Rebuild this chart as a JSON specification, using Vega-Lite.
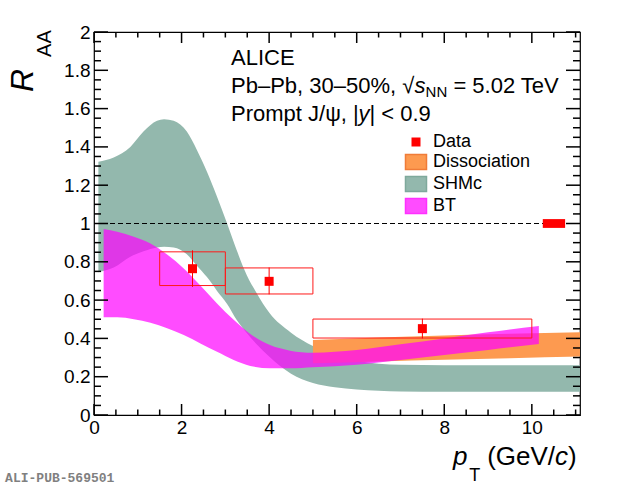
{
  "$schema": "https://vega.github.io/schema/vega-lite/v6.json",
  "width": 486,
  "height": 383,
  "autosize": {"type": "none"},
  "padding": {"left": 94, "top": 32, "right": 40, "bottom": 71},
  "background": "white",
  "config": {
    "view": {"stroke": "black", "strokeWidth": 1.2},
    "axis": {
      "domain": false, "grid": false, "ticks": false, "tickSize": 0,
      "labelColor": "black", "labelFont": "Liberation Sans", "labelFontSize": 19,
      "labelOverlap": false, "labelFlush": false
    },
    "text": {"font": "Liberation Sans", "color": "black", "align": "left", "baseline": "alphabetic"}
  },
  "datasets": {
    "shmc": [
      {"x": 0.1, "lo": 0.746, "hi": 1.323},
      {"x": 0.45, "lo": 0.77, "hi": 1.345},
      {"x": 0.83, "lo": 0.827, "hi": 1.40},
      {"x": 1.13, "lo": 0.855, "hi": 1.48},
      {"x": 1.44, "lo": 0.875, "hi": 1.537},
      {"x": 1.6, "lo": 0.879, "hi": 1.545},
      {"x": 1.82, "lo": 0.875, "hi": 1.537},
      {"x": 2.12, "lo": 0.84, "hi": 1.48},
      {"x": 2.35, "lo": 0.78, "hi": 1.384},
      {"x": 2.58, "lo": 0.72, "hi": 1.27},
      {"x": 2.81, "lo": 0.648, "hi": 1.14},
      {"x": 3.04, "lo": 0.58, "hi": 1.0},
      {"x": 3.26, "lo": 0.496, "hi": 0.86},
      {"x": 3.49, "lo": 0.428, "hi": 0.73},
      {"x": 3.72, "lo": 0.368, "hi": 0.635},
      {"x": 4.0, "lo": 0.305, "hi": 0.535},
      {"x": 4.5, "lo": 0.215, "hi": 0.43},
      {"x": 5.0, "lo": 0.167, "hi": 0.36},
      {"x": 5.5, "lo": 0.145, "hi": 0.31},
      {"x": 6.0, "lo": 0.133, "hi": 0.283},
      {"x": 6.5, "lo": 0.127, "hi": 0.268},
      {"x": 7.0, "lo": 0.123, "hi": 0.262},
      {"x": 8.0, "lo": 0.122, "hi": 0.26},
      {"x": 9.0, "lo": 0.122, "hi": 0.26},
      {"x": 10.0, "lo": 0.122, "hi": 0.26},
      {"x": 11.1, "lo": 0.122, "hi": 0.26}
    ],
    "diss": [
      {"x": 5.0, "lo": 0.27, "hi": 0.392},
      {"x": 6.5, "lo": 0.28, "hi": 0.405},
      {"x": 8.0, "lo": 0.289, "hi": 0.415},
      {"x": 9.5, "lo": 0.297, "hi": 0.424},
      {"x": 11.1, "lo": 0.305, "hi": 0.432}
    ],
    "bt": [
      {"x": 0.22, "lo": 0.51, "hi": 0.971},
      {"x": 0.53, "lo": 0.51, "hi": 0.957},
      {"x": 0.91, "lo": 0.50, "hi": 0.931},
      {"x": 1.29, "lo": 0.482, "hi": 0.896},
      {"x": 1.67, "lo": 0.453, "hi": 0.838},
      {"x": 2.05, "lo": 0.418, "hi": 0.765},
      {"x": 2.43, "lo": 0.374, "hi": 0.676},
      {"x": 2.81, "lo": 0.33, "hi": 0.582},
      {"x": 3.19, "lo": 0.287, "hi": 0.497},
      {"x": 3.57, "lo": 0.256, "hi": 0.423},
      {"x": 4.02, "lo": 0.244, "hi": 0.365},
      {"x": 4.48, "lo": 0.244, "hi": 0.336},
      {"x": 5.0, "lo": 0.25, "hi": 0.325},
      {"x": 5.5, "lo": 0.255, "hi": 0.33},
      {"x": 6.0, "lo": 0.262, "hi": 0.34},
      {"x": 7.0, "lo": 0.287, "hi": 0.37},
      {"x": 8.0, "lo": 0.313, "hi": 0.40},
      {"x": 9.0, "lo": 0.34, "hi": 0.432},
      {"x": 10.16, "lo": 0.371, "hi": 0.465}
    ],
    "points": [
      {"pt": 2.25, "xlo": 1.5, "xhi": 3.0, "raa": 0.764, "slo": 0.676, "shi": 0.852, "elo": 0.669, "ehi": 0.86},
      {"pt": 4.0, "xlo": 3.0, "xhi": 5.0, "raa": 0.698, "slo": 0.632, "shi": 0.768, "elo": 0.63, "ehi": 0.77},
      {"pt": 7.5, "xlo": 5.0, "xhi": 10.0, "raa": 0.451, "slo": 0.402, "shi": 0.501, "elo": 0.40, "ehi": 0.503}
    ]
  },
  "layer": [
    {
      "data": {"name": "shmc"},
      "mark": {"type": "area", "interpolate": "monotone"},
      "encoding": {
        "x": {"field": "x", "type": "quantitative", "scale": {"domain": [0, 11.1], "nice": false, "zero": false},
          "axis": {"orient": "bottom", "values": [0, 2, 4, 6, 8, 10], "labelPadding": 3.5, "title": null}},
        "y": {"field": "hi", "type": "quantitative", "scale": {"domain": [0, 2], "nice": false},
          "axis": {"orient": "left", "values": [0, 0.2, 0.4, 0.6, 0.8, 1, 1.2, 1.4, 1.6, 1.8, 2], "labelPadding": 4, "format": "~g", "title": null}},
        "y2": {"field": "lo"},
        "color": {
          "datum": "SHMc",
          "type": "nominal",
          "scale": {"domain": ["Data", "Dissociation", "SHMc", "BT"], "range": ["#ff0000", "#fd9a50", "#93b8ad", "#ff00ff"]},
          "legend": {
            "title": null, "orient": "none", "legendX": 313, "legendY": 101, "padding": 0,
            "symbolType": "square", "symbolSize": 225,
            "labelFont": "Liberation Sans", "labelFontSize": 18, "labelColor": "black",
            "labelOffset": 8, "rowPadding": 0,
            "encode": {
              "symbols": {
                "update": {
                  "shape": {"signal": "datum.value === 'Data' ? 'square' : 'M-1.4,-1H1.4V1H-1.4Z'"},
                  "size": {"signal": "datum.value === 'Data' ? 81 : 225"},
                  "fill": {"signal": "scale('color', datum.value)"},
                  "fillOpacity": {"signal": "datum.value === 'BT' ? 0.7 : 1"},
                  "opacity": {"value": 1},
                  "stroke": {"signal": "datum.value === 'Dissociation' ? '#f07c38' : datum.value === 'SHMc' ? '#7fa99c' : datum.value === 'BT' ? '#ff30ff' : 'transparent'"},
                  "strokeWidth": {"value": 1.5}
                }
              }
            }
          }
        }
      }
    },
    {
      "data": {"name": "diss"},
      "mark": {"type": "area", "interpolate": "monotone"},
      "encoding": {
        "x": {"field": "x", "type": "quantitative", "scale": {"domain": [0, 11.1], "nice": false, "zero": false}, "axis": null},
        "y": {"field": "hi", "type": "quantitative", "scale": {"domain": [0, 2], "nice": false}, "axis": null},
        "y2": {"field": "lo"},
        "color": {"datum": "Dissociation", "type": "nominal"}
      }
    },
    {
      "data": {"name": "bt"},
      "mark": {"type": "area", "interpolate": "monotone", "opacity": 0.7},
      "encoding": {
        "x": {"field": "x", "type": "quantitative", "scale": {"domain": [0, 11.1], "nice": false, "zero": false}, "axis": null},
        "y": {"field": "hi", "type": "quantitative", "scale": {"domain": [0, 2], "nice": false}, "axis": null},
        "y2": {"field": "lo"},
        "color": {"datum": "BT", "type": "nominal"}
      }
    },
    {
      "data": {"values": [{"x0": 0, "x1": 11.1, "y": 1}]},
      "mark": {"type": "rule", "color": "black", "strokeWidth": 1, "strokeDash": [5, 3]},
      "encoding": {
        "x": {"field": "x0", "type": "quantitative", "scale": {"domain": [0, 11.1], "nice": false, "zero": false}, "axis": null},
        "x2": {"field": "x1"},
        "y": {"field": "y", "type": "quantitative", "scale": {"domain": [0, 2], "nice": false}, "axis": null}
      }
    },
    {
      "data": {"name": "points"},
      "mark": {"type": "rect", "fillOpacity": 0, "stroke": "#ff1a1a", "strokeWidth": 1},
      "encoding": {
        "x": {"field": "xlo", "type": "quantitative", "scale": {"domain": [0, 11.1], "nice": false, "zero": false}, "axis": null},
        "x2": {"field": "xhi"},
        "y": {"field": "slo", "type": "quantitative", "scale": {"domain": [0, 2], "nice": false}, "axis": null},
        "y2": {"field": "shi"}
      }
    },
    {
      "data": {"name": "points"},
      "mark": {"type": "rule", "color": "#ff0000", "strokeWidth": 1},
      "encoding": {
        "x": {"field": "pt", "type": "quantitative", "scale": {"domain": [0, 11.1], "nice": false, "zero": false}, "axis": null},
        "y": {"field": "elo", "type": "quantitative", "scale": {"domain": [0, 2], "nice": false}, "axis": null},
        "y2": {"field": "ehi"}
      }
    },
    {
      "data": {"name": "points"},
      "mark": {"type": "point", "shape": "square", "filled": true, "size": 81, "opacity": 1},
      "encoding": {
        "x": {"field": "pt", "type": "quantitative", "scale": {"domain": [0, 11.1], "nice": false, "zero": false}, "axis": null},
        "y": {"field": "raa", "type": "quantitative", "scale": {"domain": [0, 2], "nice": false}, "axis": null},
        "color": {"datum": "Data", "type": "nominal"}
      }
    },
    {
      "data": {"values": [{"xlo": 10.25, "xhi": 10.76, "lo": 0.977, "hi": 1.023}]},
      "mark": {"type": "rect", "color": "#ff0000"},
      "encoding": {
        "x": {"field": "xlo", "type": "quantitative", "scale": {"domain": [0, 11.1], "nice": false, "zero": false}, "axis": null},
        "x2": {"field": "xhi"},
        "y": {"field": "lo", "type": "quantitative", "scale": {"domain": [0, 2], "nice": false}, "axis": null},
        "y2": {"field": "hi"}
      }
    },
    {
      "data": {"values": [
        {"v": 0, "a": 0, "b": 0.0574}, {"v": 2, "a": 0, "b": 0.0574}, {"v": 4, "a": 0, "b": 0.0574},
        {"v": 6, "a": 0, "b": 0.0574}, {"v": 8, "a": 0, "b": 0.0574}, {"v": 10, "a": 0, "b": 0.0574},
        {"v": 0, "a": 1.9426, "b": 2}, {"v": 2, "a": 1.9426, "b": 2}, {"v": 4, "a": 1.9426, "b": 2},
        {"v": 6, "a": 1.9426, "b": 2}, {"v": 8, "a": 1.9426, "b": 2}, {"v": 10, "a": 1.9426, "b": 2},
        {"v": 0.5, "a": 0, "b": 0.0287}, {"v": 1, "a": 0, "b": 0.0287}, {"v": 1.5, "a": 0, "b": 0.0287},
        {"v": 2.5, "a": 0, "b": 0.0287}, {"v": 3, "a": 0, "b": 0.0287}, {"v": 3.5, "a": 0, "b": 0.0287},
        {"v": 4.5, "a": 0, "b": 0.0287}, {"v": 5, "a": 0, "b": 0.0287}, {"v": 5.5, "a": 0, "b": 0.0287},
        {"v": 6.5, "a": 0, "b": 0.0287}, {"v": 7, "a": 0, "b": 0.0287}, {"v": 7.5, "a": 0, "b": 0.0287},
        {"v": 8.5, "a": 0, "b": 0.0287}, {"v": 9, "a": 0, "b": 0.0287}, {"v": 9.5, "a": 0, "b": 0.0287},
        {"v": 10.5, "a": 0, "b": 0.0287}, {"v": 11, "a": 0, "b": 0.0287},
        {"v": 0.5, "a": 1.9713, "b": 2}, {"v": 1, "a": 1.9713, "b": 2}, {"v": 1.5, "a": 1.9713, "b": 2},
        {"v": 2.5, "a": 1.9713, "b": 2}, {"v": 3, "a": 1.9713, "b": 2}, {"v": 3.5, "a": 1.9713, "b": 2},
        {"v": 4.5, "a": 1.9713, "b": 2}, {"v": 5, "a": 1.9713, "b": 2}, {"v": 5.5, "a": 1.9713, "b": 2},
        {"v": 6.5, "a": 1.9713, "b": 2}, {"v": 7, "a": 1.9713, "b": 2}, {"v": 7.5, "a": 1.9713, "b": 2},
        {"v": 8.5, "a": 1.9713, "b": 2}, {"v": 9, "a": 1.9713, "b": 2}, {"v": 9.5, "a": 1.9713, "b": 2},
        {"v": 10.5, "a": 1.9713, "b": 2}, {"v": 11, "a": 1.9713, "b": 2}
      ]},
      "mark": {"type": "rule", "color": "#000000", "strokeWidth": 1.5, "opacity": 1},
      "encoding": {
        "x": {"field": "v", "type": "quantitative", "scale": {"domain": [0, 11.1], "nice": false, "zero": false}, "axis": null},
        "y": {"field": "a", "type": "quantitative", "scale": {"domain": [0, 2], "nice": false}, "axis": null},
        "y2": {"field": "b"}
      }
    },
    {
      "data": {"values": [
        {"v": 0, "a": 0, "b": 0.32}, {"v": 0.2, "a": 0, "b": 0.32}, {"v": 0.4, "a": 0, "b": 0.32}, {"v": 0.6, "a": 0, "b": 0.32},
        {"v": 0.8, "a": 0, "b": 0.32}, {"v": 1, "a": 0, "b": 0.32}, {"v": 1.2, "a": 0, "b": 0.32}, {"v": 1.4, "a": 0, "b": 0.32},
        {"v": 1.6, "a": 0, "b": 0.32}, {"v": 1.8, "a": 0, "b": 0.32}, {"v": 2, "a": 0, "b": 0.32},
        {"v": 0, "a": 10.78, "b": 11.1}, {"v": 0.2, "a": 10.78, "b": 11.1}, {"v": 0.4, "a": 10.78, "b": 11.1}, {"v": 0.6, "a": 10.78, "b": 11.1},
        {"v": 0.8, "a": 10.78, "b": 11.1}, {"v": 1, "a": 10.78, "b": 11.1}, {"v": 1.2, "a": 10.78, "b": 11.1}, {"v": 1.4, "a": 10.78, "b": 11.1},
        {"v": 1.6, "a": 10.78, "b": 11.1}, {"v": 1.8, "a": 10.78, "b": 11.1}, {"v": 2, "a": 10.78, "b": 11.1},
        {"v": 0.05, "a": 0, "b": 0.16}, {"v": 0.1, "a": 0, "b": 0.16}, {"v": 0.15, "a": 0, "b": 0.16}, {"v": 0.25, "a": 0, "b": 0.16},
        {"v": 0.3, "a": 0, "b": 0.16}, {"v": 0.35, "a": 0, "b": 0.16}, {"v": 0.45, "a": 0, "b": 0.16}, {"v": 0.5, "a": 0, "b": 0.16},
        {"v": 0.55, "a": 0, "b": 0.16}, {"v": 0.65, "a": 0, "b": 0.16}, {"v": 0.7, "a": 0, "b": 0.16}, {"v": 0.75, "a": 0, "b": 0.16},
        {"v": 0.85, "a": 0, "b": 0.16}, {"v": 0.9, "a": 0, "b": 0.16}, {"v": 0.95, "a": 0, "b": 0.16}, {"v": 1.05, "a": 0, "b": 0.16},
        {"v": 1.1, "a": 0, "b": 0.16}, {"v": 1.15, "a": 0, "b": 0.16}, {"v": 1.25, "a": 0, "b": 0.16}, {"v": 1.3, "a": 0, "b": 0.16},
        {"v": 1.35, "a": 0, "b": 0.16}, {"v": 1.45, "a": 0, "b": 0.16}, {"v": 1.5, "a": 0, "b": 0.16}, {"v": 1.55, "a": 0, "b": 0.16},
        {"v": 1.65, "a": 0, "b": 0.16}, {"v": 1.7, "a": 0, "b": 0.16}, {"v": 1.75, "a": 0, "b": 0.16}, {"v": 1.85, "a": 0, "b": 0.16},
        {"v": 1.9, "a": 0, "b": 0.16}, {"v": 1.95, "a": 0, "b": 0.16},
        {"v": 0.05, "a": 10.94, "b": 11.1}, {"v": 0.1, "a": 10.94, "b": 11.1}, {"v": 0.15, "a": 10.94, "b": 11.1}, {"v": 0.25, "a": 10.94, "b": 11.1},
        {"v": 0.3, "a": 10.94, "b": 11.1}, {"v": 0.35, "a": 10.94, "b": 11.1}, {"v": 0.45, "a": 10.94, "b": 11.1}, {"v": 0.5, "a": 10.94, "b": 11.1},
        {"v": 0.55, "a": 10.94, "b": 11.1}, {"v": 0.65, "a": 10.94, "b": 11.1}, {"v": 0.7, "a": 10.94, "b": 11.1}, {"v": 0.75, "a": 10.94, "b": 11.1},
        {"v": 0.85, "a": 10.94, "b": 11.1}, {"v": 0.9, "a": 10.94, "b": 11.1}, {"v": 0.95, "a": 10.94, "b": 11.1}, {"v": 1.05, "a": 10.94, "b": 11.1},
        {"v": 1.1, "a": 10.94, "b": 11.1}, {"v": 1.15, "a": 10.94, "b": 11.1}, {"v": 1.25, "a": 10.94, "b": 11.1}, {"v": 1.3, "a": 10.94, "b": 11.1},
        {"v": 1.35, "a": 10.94, "b": 11.1}, {"v": 1.45, "a": 10.94, "b": 11.1}, {"v": 1.5, "a": 10.94, "b": 11.1}, {"v": 1.55, "a": 10.94, "b": 11.1},
        {"v": 1.65, "a": 10.94, "b": 11.1}, {"v": 1.7, "a": 10.94, "b": 11.1}, {"v": 1.75, "a": 10.94, "b": 11.1}, {"v": 1.85, "a": 10.94, "b": 11.1},
        {"v": 1.9, "a": 10.94, "b": 11.1}, {"v": 1.95, "a": 10.94, "b": 11.1}
      ]},
      "mark": {"type": "rule", "color": "#000000", "strokeWidth": 1.5, "opacity": 1},
      "encoding": {
        "y": {"field": "v", "type": "quantitative", "scale": {"domain": [0, 2], "nice": false}, "axis": null},
        "x": {"field": "a", "type": "quantitative", "scale": {"domain": [0, 11.1], "nice": false, "zero": false}, "axis": null},
        "x2": {"field": "b"}
      }
    },
    {
      "data": {"values": [
        {"t": "ALICE", "x": 3.13, "y": 1.828},
        {"t": "Pb–Pb, 30–50%, √", "x": 3.13, "y": 1.681},
        {"t": "= 5.02 TeV", "x": 8.208, "y": 1.681},
        {"t": "Prompt J/ψ, |", "x": 3.13, "y": 1.535},
        {"t": "| < 0.9", "x": 6.292, "y": 1.535}
      ]},
      "mark": {"type": "text", "fontSize": 22},
      "encoding": {
        "x": {"field": "x", "type": "quantitative", "scale": {"domain": [0, 11.1], "nice": false, "zero": false}, "axis": null},
        "y": {"field": "y", "type": "quantitative", "scale": {"domain": [0, 2], "nice": false}, "axis": null},
        "text": {"field": "t"}
      }
    },
    {
      "data": {"values": [
        {"t": "s", "x": 7.322, "y": 1.681},
        {"t": "y", "x": 6.041, "y": 1.535}
      ]},
      "mark": {"type": "text", "fontSize": 22, "fontStyle": "italic"},
      "encoding": {
        "x": {"field": "x", "type": "quantitative", "scale": {"domain": [0, 11.1], "nice": false, "zero": false}, "axis": null},
        "y": {"field": "y", "type": "quantitative", "scale": {"domain": [0, 2], "nice": false}, "axis": null},
        "text": {"field": "t"}
      }
    },
    {
      "data": {"values": [
        {"t": "NN", "x": 7.573, "y": 1.66}
      ]},
      "mark": {"type": "text", "fontSize": 15},
      "encoding": {
        "x": {"field": "x", "type": "quantitative", "scale": {"domain": [0, 11.1], "nice": false, "zero": false}, "axis": null},
        "y": {"field": "y", "type": "quantitative", "scale": {"domain": [0, 2], "nice": false}, "axis": null},
        "text": {"field": "t"}
      }
    },
    {
      "data": {"values": [
        {"t": "p", "x": 8.2, "y": -0.261},
        {"t": "c", "x": 10.53, "y": -0.261}
      ]},
      "mark": {"type": "text", "fontSize": 26, "fontStyle": "italic"},
      "encoding": {
        "x": {"field": "x", "type": "quantitative", "scale": {"domain": [0, 11.1], "nice": false, "zero": false}, "axis": null},
        "y": {"field": "y", "type": "quantitative", "scale": {"domain": [0, 2], "nice": false}, "axis": null},
        "text": {"field": "t"}
      }
    },
    {
      "data": {"values": [
        {"t": "(GeV/", "x": 8.98, "y": -0.261},
        {"t": ")", "x": 10.826, "y": -0.261}
      ]},
      "mark": {"type": "text", "fontSize": 26},
      "encoding": {
        "x": {"field": "x", "type": "quantitative", "scale": {"domain": [0, 11.1], "nice": false, "zero": false}, "axis": null},
        "y": {"field": "y", "type": "quantitative", "scale": {"domain": [0, 2], "nice": false}, "axis": null},
        "text": {"field": "t"}
      }
    },
    {
      "data": {"values": [
        {"t": "T", "x": 8.57, "y": -0.345}
      ]},
      "mark": {"type": "text", "fontSize": 18},
      "encoding": {
        "x": {"field": "x", "type": "quantitative", "scale": {"domain": [0, 11.1], "nice": false, "zero": false}, "axis": null},
        "y": {"field": "y", "type": "quantitative", "scale": {"domain": [0, 2], "nice": false}, "axis": null},
        "text": {"field": "t"}
      }
    },
    {
      "data": {"values": [
        {"t": "R", "x": -1.386, "y": 1.687}
      ]},
      "mark": {"type": "text", "fontSize": 32, "fontStyle": "italic", "angle": 270},
      "encoding": {
        "x": {"field": "x", "type": "quantitative", "scale": {"domain": [0, 11.1], "nice": false, "zero": false}, "axis": null},
        "y": {"field": "y", "type": "quantitative", "scale": {"domain": [0, 2], "nice": false}, "axis": null},
        "text": {"field": "t"}
      }
    },
    {
      "data": {"values": [
        {"t": "AA", "x": -0.984, "y": 1.87}
      ]},
      "mark": {"type": "text", "fontSize": 20, "angle": 270},
      "encoding": {
        "x": {"field": "x", "type": "quantitative", "scale": {"domain": [0, 11.1], "nice": false, "zero": false}, "axis": null},
        "y": {"field": "y", "type": "quantitative", "scale": {"domain": [0, 2], "nice": false}, "axis": null},
        "text": {"field": "t"}
      }
    },
    {
      "data": {"values": [
        {"t": "ALI-PUB-569501", "x": -2.03, "y": -0.35}
      ]},
      "mark": {"type": "text", "fontSize": 13, "font": "Liberation Mono", "fontWeight": "bold", "color": "#808080"},
      "encoding": {
        "x": {"field": "x", "type": "quantitative", "scale": {"domain": [0, 11.1], "nice": false, "zero": false}, "axis": null},
        "y": {"field": "y", "type": "quantitative", "scale": {"domain": [0, 2], "nice": false}, "axis": null},
        "text": {"field": "t"}
      }
    }
  ],
  "resolve": {"axis": {"x": "independent", "y": "independent"}}
}
